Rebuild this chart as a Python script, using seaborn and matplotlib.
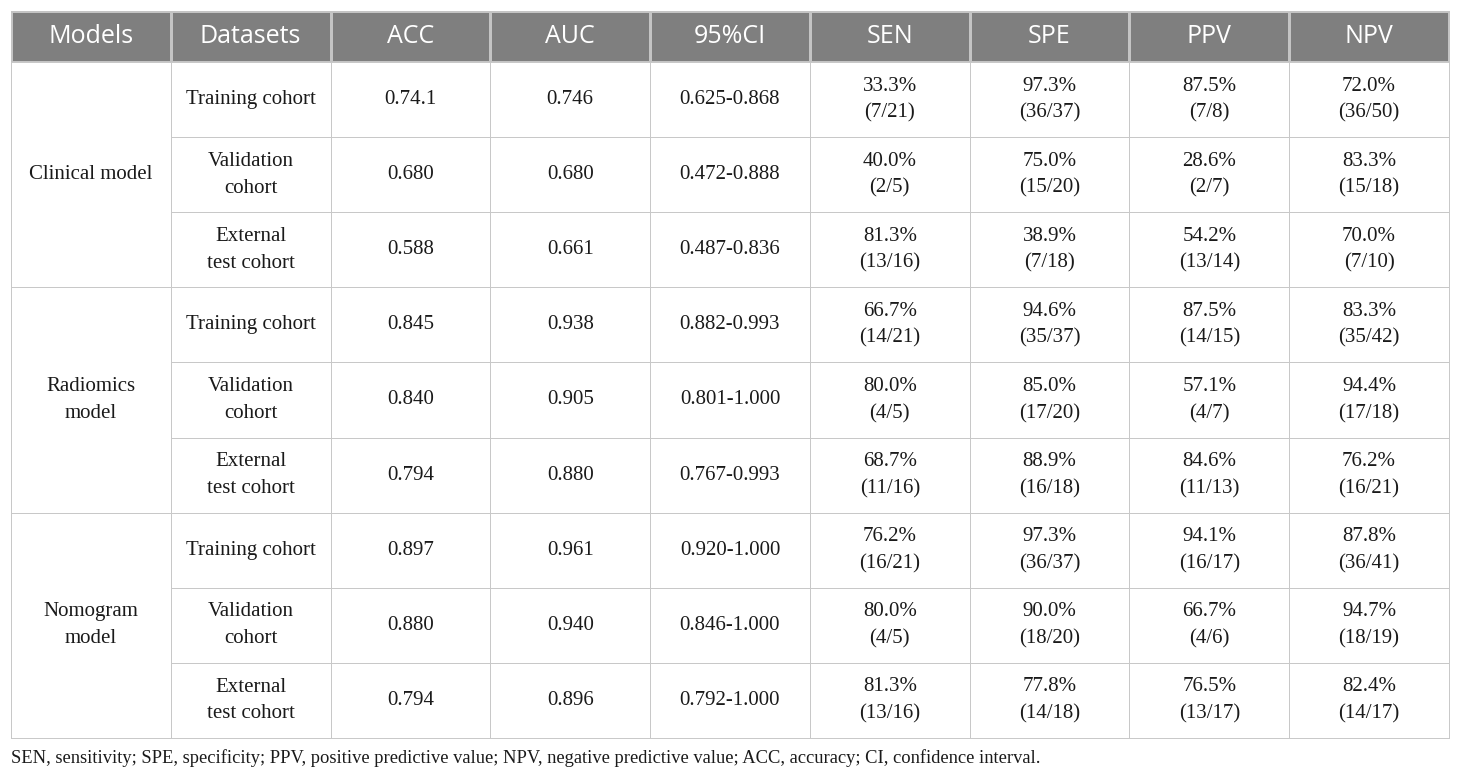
import numpy as np
import seaborn as sns
import matplotlib.pyplot as plt
from matplotlib.colors import ListedColormap
from matplotlib.patches import Rectangle

headers = ["Models", "Datasets", "ACC", "AUC", "95%CI", "SEN", "SPE", "PPV", "NPV"]
models = ["Clinical model", "Radiomics\nmodel", "Nomogram\nmodel"]
datasets = ["Training cohort", "Validation\ncohort", "External\ntest cohort"]
acc = ["0.74.1", "0.680", "0.588", "0.845", "0.840", "0.794", "0.897", "0.880", "0.794"]
auc = ["0.746", "0.680", "0.661", "0.938", "0.905", "0.880", "0.961", "0.940", "0.896"]
ci95 = ["0.625-0.868", "0.472-0.888", "0.487-0.836", "0.882-0.993", "0.801-1.000",
        "0.767-0.993", "0.920-1.000", "0.846-1.000", "0.792-1.000"]
sen = ["33.3%\n(7/21)", "40.0%\n(2/5)", "81.3%\n(13/16)", "66.7%\n(14/21)", "80.0%\n(4/5)",
       "68.7%\n(11/16)", "76.2%\n(16/21)", "80.0%\n(4/5)", "81.3%\n(13/16)"]
spe = ["97.3%\n(36/37)", "75.0%\n(15/20)", "38.9%\n(7/18)", "94.6%\n(35/37)", "85.0%\n(17/20)",
       "88.9%\n(16/18)", "97.3%\n(36/37)", "90.0%\n(18/20)", "77.8%\n(14/18)"]
ppv = ["87.5%\n(7/8)", "28.6%\n(2/7)", "54.2%\n(13/14)", "87.5%\n(14/15)", "57.1%\n(4/7)",
       "84.6%\n(11/13)", "94.1%\n(16/17)", "66.7%\n(4/6)", "76.5%\n(13/17)"]
npv = ["72.0%\n(36/50)", "83.3%\n(15/18)", "70.0%\n(7/10)", "83.3%\n(35/42)", "94.4%\n(17/18)",
       "76.2%\n(16/21)", "87.8%\n(36/41)", "94.7%\n(18/19)", "82.4%\n(14/17)"]
footnote = ("SEN, sensitivity; SPE, specificity; PPV, positive predictive value; "
            "NPV, negative predictive value; ACC, accuracy; CI, confidence interval.")

sns.set_theme(style="white")
plt.rcParams['font.family'] = ['Liberation Serif', 'DejaVu Serif']

W, H = 1460, 779
fig = plt.figure(figsize=(W / 100, H / 100), dpi=100)

grid = "#c8c8c8"
head_bg = "#7f7f7f"
txt = "#1a1a1a"
left, right, top, head_bot, bottom = 11, 1449, 11, 62, 738
lw = 0.7

# header row
axh = fig.add_axes([left / W, 1 - head_bot / H, (right - left) / W, (head_bot - top) / H])
sns.heatmap(np.zeros((1, len(headers))), cmap=ListedColormap([head_bg]), cbar=False,
            linewidths=0.9, linecolor="#c4c4c4", xticklabels=False, yticklabels=False, ax=axh)
for j, h in enumerate(headers):
    axh.text(j + 0.5, 0.5, h, ha="center", va="center", color="white",
             fontsize=18, family=["Open Sans", "DejaVu Sans"])
for s in axh.spines.values():
    s.set_visible(True)
    s.set_color("#c4c4c4")
    s.set_linewidth(lw)

# body
cols = [datasets * 3, acc, auc, ci95, sen, spe, ppv, npv]
nrows = len(acc)
axb = fig.add_axes([left / W, 1 - bottom / H, (right - left) / W, (bottom - head_bot) / H])
mask = np.zeros((nrows, len(headers)), dtype=bool)
mask[:, 0] = True
sns.heatmap(np.zeros((nrows, len(headers))), mask=mask, cmap=ListedColormap(["white"]),
            cbar=False, linewidths=lw, linecolor=grid, xticklabels=False, yticklabels=False, ax=axb)
for g, m in enumerate(models):
    axb.add_patch(Rectangle((0, 3 * g), 1, 3, facecolor="white", edgecolor=grid, lw=lw))
    axb.text(0.5, 3 * g + 1.5, m, ha="center", va="center", color=txt,
             fontsize=15, linespacing=1.55)
for j, col in enumerate(cols, start=1):
    for i, v in enumerate(col):
        axb.text(j + 0.5, i + 0.5, v, ha="center", va="center", color=txt,
                 fontsize=15, linespacing=1.55)
for s in axb.spines.values():
    s.set_visible(True)
    s.set_color(grid)
    s.set_linewidth(lw)

fig.text(left / W, 1 - 758 / H, footnote, ha="left", va="center", color=txt, fontsize=13.3)

fig.savefig("out.png", dpi=100)
